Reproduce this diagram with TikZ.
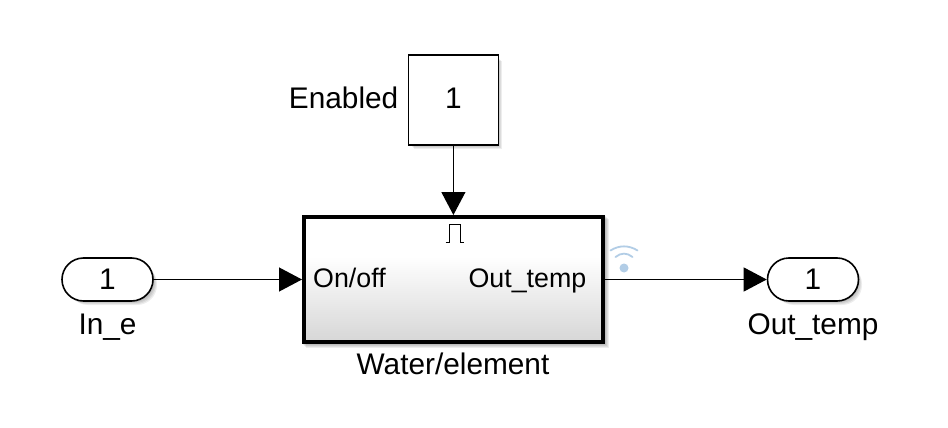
\documentclass[tikz,border=0pt]{standalone}
\usepackage{fontspec}
\setmainfont{Liberation Sans}
\usetikzlibrary{arrows.meta,shapes.misc,calc}
\definecolor{sigblue}{RGB}{178,205,230}
\tikzset{
  x=1pt,y=-1pt,
  lbl/.style={inner sep=0pt,font=\fontsize{29.8}{32}\selectfont,text=black},
  inlbl/.style={inner sep=0pt,font=\fontsize{26.8}{29}\selectfont,text=black},
  conn/.style={line width=1.2pt,-{Triangle[length=23pt,width=24pt,fill=black]}},
  shadowbox/.style={draw=none,fill=black,opacity=0.07},
  portbox/.style={rounded rectangle,draw=black,line width=1.6pt,fill=white,minimum width=91pt,minimum height=43pt,inner sep=0pt,font=\fontsize{29.8}{32}\selectfont},
  constbox/.style={rectangle,draw=black,line width=1.6pt,fill=white,minimum width=90pt,minimum height=90pt,inner sep=0pt,font=\fontsize{29.8}{32}\selectfont},
  wifi/.style={draw=sigblue,line width=1.8pt,line cap=round}
}
\begin{document}
\begin{tikzpicture}
\useasboundingbox (0,0) rectangle (948,428);
\fill[white] (0,0) rectangle (948,428);
% soft shadows
\foreach \d in {1,2,3,4}{
  \fill[shadowbox,rounded corners=20pt] (64+\d,260+\d) rectangle (153+\d,301+\d);
  \fill[shadowbox] (410+\d,57+\d) rectangle (498+\d,145+\d);
  \fill[shadowbox,rounded corners=20pt] (770+\d,260+\d) rectangle (858+\d,301+\d);
  \fill[shadowbox] (302+\d,215+\d) rectangle (605+\d,344+\d);
}
% subsystem body
\fill[white] (304,217) rectangle (603,342);
\shade[top color=white,bottom color=black!16,draw=none] (304,256) rectangle (603,342);
\node[draw=black,line width=4.4pt,minimum width=299pt,minimum height=125pt,inner sep=0pt,anchor=north west] (sub) at (302,215) {};
% pulse glyph
\coordinate (pa) at (445.7,242);
\coordinate (pb) at (449,242);
\coordinate (pc) at (449,224);
\coordinate (pd) at (460.5,224);
\coordinate (pe) at (460.5,242);
\coordinate (pf) at (463.5,242);
\draw[black,line width=0.9pt] (pa) -- (pb) -- (pc) -- (pd) -- (pe) -- (pf);
% ports
\node[constbox] (en) at (453.4,100) {\raisebox{3pt}{1}};
\node[portbox] (in) at (107.5,279.5) {\raisebox{1.5pt}{1}};
\node[portbox] (out) at (813,279.5) {\raisebox{1.5pt}{1}};
% connectors
\draw[conn] (en.south) -- (en.south |- sub.north);
\coordinate (subin) at (sub.west |- in.east);
\coordinate (subout) at (sub.east |- in.east);
\draw[conn] (in.east) -- (subin);
\draw[conn] (subout) -- (out.west);
% labels
\node[lbl,anchor=base east] (enl) at (398.5,108) {Enabled};
\node[lbl,anchor=base] (inl) at (107.5,334) {In\_e};
\node[lbl,anchor=base] (outl) at (813,334) {Out\_temp};
\node[lbl,anchor=base] (subl) at (453,374) {Water/element};
\node[inlbl,anchor=base west] (onl) at (313,287) {On/off};
\node[inlbl,anchor=base east] (outp) at (586.5,287) {Out\_temp};
% signal-logging glyph
\fill[sigblue] (624,268) circle (4.5pt);
\draw[wifi] (615.5,257) .. controls (621,252.5) and (627,252.5) .. (632.5,257);
\draw[wifi] (610.5,250.5) .. controls (619,245) and (629,245) .. (637.5,250.5);
\end{tikzpicture}
\end{document}
